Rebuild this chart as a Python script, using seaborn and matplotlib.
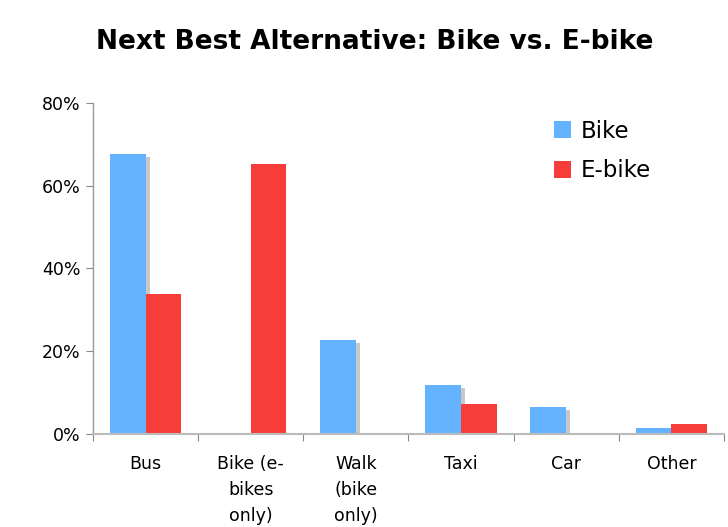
import matplotlib
matplotlib.use("Agg")
import matplotlib.pyplot as plt
import matplotlib.patheffects as pe
import seaborn as sns
import pandas as pd
from matplotlib.ticker import FuncFormatter
from matplotlib.patches import Patch

categories = ["Bus", "Bike (e-\nbikes\nonly)", "Walk\n(bike\nonly)", "Taxi", "Car", "Other"]
bike = [67.7, 0.0, 22.8, 11.8, 6.6, 1.4]
ebike = [33.9, 65.3, 0.0, 7.3, 0.0, 2.5]
series = ["Bike", "E-bike"]
colors = ["#64b3ff", "#f73d3a"]

df = pd.DataFrame({
    "category": categories * 2,
    "value": bike + ebike,
    "series": [series[0]] * len(categories) + [series[1]] * len(categories),
})

sns.set_style("white")
plt.rcParams["font.family"] = ["DejaVu Sans"]
plt.rcParams["text.color"] = "black"
plt.rcParams["xtick.labelcolor"] = "black"
plt.rcParams["ytick.labelcolor"] = "black"

fig = plt.figure(figsize=(7.28, 5.27), dpi=100)
ax = fig.add_axes([0.1277, 0.1765, 0.8668, 0.6281])

sns.barplot(data=df, x="category", y="value", hue="series", order=categories,
            hue_order=series, palette=colors, width=0.68, linewidth=0,
            saturation=1, ax=ax, legend=False)

n = len(categories)
for patch in ax.patches[:n]:
    patch.set_path_effects([pe.SimplePatchShadow(offset=(3.0, -2.4),
                                                 shadow_rgbFace="#c8c8c8",
                                                 alpha=1.0),
                            pe.Normal()])

ax.set_ylim(0, 80)
ax.set_xlim(-0.5, n - 0.5)
ax.set_yticks([0, 20, 40, 60, 80])
ax.yaxis.set_major_formatter(FuncFormatter(lambda v, p: f"{int(v)}%"))
ax.set_xlabel("")
ax.set_ylabel("")

ax.set_xticks([i - 0.5 for i in range(n + 1)], minor=False)
ax.set_xticklabels([""] * (n + 1))
ax.set_xticks(range(n), minor=True)
ax.set_xticklabels(categories, minor=True, fontsize=12.5, linespacing=1.58, va="top",
                   color="black")
ax.tick_params(axis="x", which="minor", length=0, pad=15)
ax.tick_params(axis="x", which="major", length=5, color="#888888", direction="out", bottom=True)
ax.tick_params(axis="y", length=5, color="#888888", direction="out", left=True,
               labelsize=12.5, pad=4, labelcolor="black")

for s in ["top", "right"]:
    ax.spines[s].set_visible(False)
ax.spines["left"].set_color("#999999")
ax.spines["bottom"].set_color("#bbbbbb")
ax.spines["bottom"].set_linewidth(1.5)
ax.spines["left"].set_linewidth(1.0)

handles = [Patch(facecolor=c, edgecolor="none") for c in colors]
ax.legend(handles, series, loc="upper left", bbox_to_anchor=(0.698, 1.012),
          frameon=False, fontsize=16.5, handlelength=0.75, handleheight=0.75,
          handletextpad=0.4, labelspacing=0.72, labelcolor="black")

fig.text(0.515, 0.92, "Next Best Alternative: Bike vs. E-bike", ha="center", va="center",
         fontsize=19, fontweight="bold", color="black")

fig.savefig("out.png", dpi=100)
